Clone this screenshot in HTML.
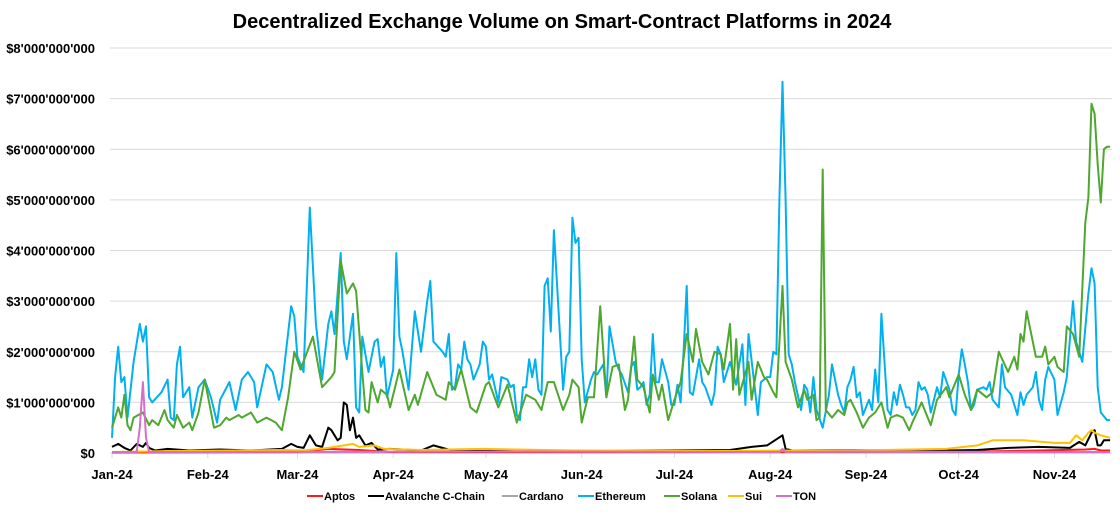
<!DOCTYPE html>
<html><head><meta charset="utf-8">
<style>
html,body{margin:0;padding:0;background:#fff;}
body{width:1120px;height:512px;overflow:hidden;font-family:"Liberation Sans",sans-serif;}
svg text{font-family:"Liberation Sans",sans-serif;font-weight:bold;fill:#000;}
</style></head>
<body>
<svg id="chart" width="1120" height="512" viewBox="0 0 1120 512">
<text x="562" y="28" text-anchor="middle" font-size="20">Decentralized Exchange Volume on Smart-Contract Platforms in 2024</text>
<g id="grid"></g>
<g id="yaxis"></g>
<g id="xaxis"></g>
<g id="series"></g>
<g id="legend"></g>
</svg>
<script>
// values in $ billions, days = day index since 2024-01-01
const monthLabels = ["Jan-24","Feb-24","Mar-24","Apr-24","May-24","Jun-24","Jul-24","Aug-24","Sep-24","Oct-24","Nov-24"];
const monthDays = [0,31,60,91,121,152,182,213,244,274,305];
const yTicks = [0,1,2,3,4,5,6,7,8];
const yTickLabels = ["$0","$1'000'000'000","$2'000'000'000","$3'000'000'000","$4'000'000'000","$5'000'000'000","$6'000'000'000","$7'000'000'000","$8'000'000'000"];
const seriesNames = ["Aptos","Avalanche C-Chain","Cardano","Ethereum","Solana","Sui","TON"];

const ethDays = [0,1,2,3,4,5,7,9,10,11,12,13,16,18,19,20,21,22,23,25,26,28,30,32,34,35,38,40,42,44,46,47,50,52,54,55,58,59,60,62,64,66,68,70,71,72,74,75,76,78,79,80,81,83,85,86,87,88,89,91,92,93,94,96,98,100,102,103,104,107,108,109,110,111,112,113,114,115,116,117,119,120,121,122,123,125,126,128,129,130,131,132,133,134,135,136,137,138,139,140,141,142,143,146,147,148,149,150,151,152,153,155,156,157,159,160,161,163,164,165,167,168,169,170,171,172,173,174,175,176,177,178,180,181,182,183,184,185,186,187,188,190,191,192,194,195,196,197,198,200,202,204,205,206,208,209,210,212,213,214,215,216,217,218,219,220,221,223,224,225,226,227,228,230,232,233,235,236,237,238,239,240,241,242,243,245,246,247,248,249,251,252,253,254,255,256,257,258,259,260,261,262,263,264,265,267,268,269,271,272,273,274,275,276,277,278,279,280,282,283,284,285,287,288,289,291,293,294,295,296,298,299,300,301,302,303,305,306,308,309,311,312,314,316,317,318,319,320,322,323];
const ethVals = [0.3,1.5,2.1,1.4,1.5,0.7,1.8,2.55,2.2,2.5,1.1,1.0,1.2,1.45,0.7,0.65,1.75,2.1,1.1,1.3,0.7,1.3,1.45,1.1,0.6,1.05,1.4,0.85,1.45,1.6,1.4,0.9,1.75,1.6,1.05,1.3,2.9,2.7,1.9,1.6,4.85,2.55,1.45,2.55,2.8,2.35,3.95,2.2,1.85,2.75,0.9,0.8,2.3,1.6,2.2,2.25,1.7,1.9,1.1,1.65,3.95,2.3,2.0,1.25,2.8,2.0,3.0,3.4,2.2,2.0,1.9,2.35,1.25,1.3,1.75,1.65,2.2,1.85,1.75,1.45,1.75,2.2,2.1,1.45,1.55,1.0,1.5,1.45,1.3,1.35,0.75,0.65,1.3,1.3,1.85,1.5,1.85,1.25,1.15,3.3,3.45,2.4,4.4,1.25,1.9,2.0,4.65,4.15,4.25,1.85,1.0,1.45,1.6,1.55,1.75,1.1,2.5,1.8,1.65,1.55,1.2,1.7,1.8,1.25,1.3,1.4,0.95,1.15,2.35,1.4,1.4,1.85,1.4,0.95,0.95,1.35,1.0,2.0,3.3,1.2,1.15,1.85,1.4,1.3,0.95,1.2,2.1,1.95,1.4,1.8,1.35,2.15,0.95,2.35,1.3,0.75,1.4,1.5,1.5,2.0,1.95,5.0,7.33,5.0,1.95,1.75,1.4,0.85,1.35,1.25,0.8,1.5,0.85,0.5,1.15,1.75,1.15,0.95,0.8,1.3,1.45,1.7,1.1,1.2,0.75,1.05,0.85,1.65,1.0,2.75,0.85,0.75,1.2,0.95,1.35,1.15,0.9,0.9,0.75,0.85,1.4,1.25,1.3,1.15,0.8,1.3,1.1,1.6,1.25,0.85,0.75,1.55,2.05,1.75,1.4,0.85,0.95,1.25,1.3,1.25,1.4,1.05,0.9,1.75,1.3,1.15,0.75,1.2,0.95,1.15,1.3,1.6,1.05,0.85,1.45,1.7,1.45,0.75,1.2,1.5,3.0,2.2,1.8,3.15,3.65,3.35,1.3,0.8,0.65,0.65];

const solDays = [0,2,3,4,5,6,7,10,12,13,15,17,18,20,21,23,25,26,28,30,33,35,37,38,41,42,45,47,50,53,55,57,59,61,65,68,71,72,74,76,78,79,81,82,83,84,86,87,89,90,93,96,98,99,102,105,108,109,111,113,116,118,121,122,125,128,131,134,137,139,141,143,146,148,149,151,152,154,156,158,160,162,164,166,167,169,170,172,174,175,177,178,180,182,184,186,188,189,191,193,195,197,198,200,201,202,203,206,207,209,211,212,214,215,217,218,220,222,224,225,227,228,229,230,231,233,235,237,238,239,241,243,244,245,247,249,251,252,254,256,258,259,262,265,267,270,271,274,276,278,280,283,285,287,290,292,293,294,295,296,299,301,302,303,305,306,308,309,311,313,315,316,317,318,319,320,321,322,323];
const solVals = [0.5,0.9,0.7,1.15,0.55,0.45,0.7,0.8,0.55,0.65,0.55,0.85,0.65,0.5,0.75,0.5,0.6,0.45,0.8,1.45,0.5,0.55,0.7,0.65,0.75,0.7,0.8,0.6,0.7,0.6,0.45,1.1,2.0,1.65,2.3,1.3,1.5,1.6,3.8,3.15,3.35,3.2,1.6,0.85,0.8,1.4,1.0,1.25,1.15,0.9,1.65,0.85,1.15,0.95,1.6,1.15,1.05,1.4,1.25,1.65,0.9,0.8,1.35,1.4,0.9,1.35,0.6,1.15,1.05,0.85,1.4,1.4,0.85,1.15,1.45,1.3,0.6,1.1,1.1,2.9,1.1,1.7,1.75,0.85,1.05,2.3,1.45,1.3,0.8,1.55,1.05,1.35,0.65,1.05,1.4,2.35,1.8,2.45,1.8,1.55,2.0,1.95,1.65,2.55,1.25,2.25,1.15,1.8,1.05,1.8,1.5,1.45,1.2,1.1,3.3,1.8,1.45,0.9,1.25,1.05,1.15,0.65,0.7,5.6,0.85,0.7,0.85,0.75,1.0,1.05,0.8,0.5,0.6,0.7,0.8,1.0,0.5,0.7,0.75,0.7,0.45,0.6,1.0,0.55,1.05,1.3,1.1,1.55,1.15,0.85,1.25,1.1,1.2,2.0,1.6,1.9,1.65,2.35,2.2,2.8,1.9,1.9,2.1,1.75,1.9,1.7,1.6,2.5,2.35,1.9,4.55,5.05,6.9,6.7,5.7,4.95,6.0,6.05,6.05];

const avaxDays = [0,2,4,6,8,10,11,12,14,18,25,35,45,55,58,60,62,64,66,68,70,71,73,74,75,76,77,78,79,80,82,84,86,90,100,104,110,130,160,200,207,212,217,218,220,240,260,280,290,300,310,313,315,317,318,319,320,321,323];
const avaxVals = [0.12,0.18,0.1,0.05,0.18,0.12,0.2,0.1,0.05,0.08,0.05,0.07,0.05,0.08,0.18,0.12,0.1,0.35,0.15,0.12,0.5,0.45,0.25,0.3,1.0,0.95,0.45,0.7,0.3,0.35,0.15,0.2,0.07,0.08,0.05,0.15,0.05,0.05,0.04,0.06,0.12,0.15,0.35,0.08,0.05,0.06,0.04,0.06,0.1,0.12,0.1,0.22,0.15,0.4,0.45,0.15,0.15,0.25,0.25];

const suiDays = [0,20,40,55,62,70,75,78,80,85,88,100,120,150,200,250,270,280,285,295,305,310,312,314,316,317,318,320,323];
const suiVals = [0.02,0.04,0.05,0.06,0.05,0.1,0.15,0.18,0.12,0.15,0.08,0.06,0.08,0.05,0.04,0.06,0.08,0.15,0.25,0.25,0.2,0.2,0.35,0.25,0.4,0.45,0.4,0.35,0.3];

const aptDays = [0,60,70,80,90,200,280,300,315,318,320,323];
const aptVals = [0.01,0.02,0.08,0.06,0.02,0.02,0.03,0.05,0.07,0.08,0.05,0.05];

const adaDays = [0,100,200,323];
const adaVals = [0.01,0.01,0.01,0.01];

const tonDays = [0,8,9,10,11,12,30,130,200,216,217,218,240,323];
const tonVals = [0.02,0.02,0.5,1.4,0.3,0.02,0.02,0.03,0.02,0.02,0.08,0.02,0.03,0.02];

const colors = ["#ff1a1a","#000000","#a6a6a6","#00b0f0","#4ea72e","#ffc000","#d86ecc"];
const NS = "http://www.w3.org/2000/svg";
const x0 = 112, pxPerDay = 3.09, y0 = 453, pxPerB = 50.625;
function X(d){ return x0 + d*pxPerDay; }
function Y(v){ return y0 - v*pxPerB; }
function mk(tag, attrs, parent){ const e=document.createElementNS(NS,tag); for(const k in attrs) e.setAttribute(k,attrs[k]); parent.appendChild(e); return e; }

const grid=document.getElementById('grid'), yaxis=document.getElementById('yaxis'), xaxis=document.getElementById('xaxis');
yTicks.forEach((t,i)=>{
  if(t>0){ const l=mk('line',{x1:110,x2:1112,y1:Y(t),y2:Y(t),stroke:'#d9d9d9','stroke-width':1},grid);
      }
  const tx=mk('text',{x:95,y:Y(t)+5,'text-anchor':'end','font-size':13},yaxis);
  tx.textContent=yTickLabels[i];
   
});
const ax=mk('line',{x1:110,x2:1112,y1:y0,y2:y0,stroke:'#d9d9d9','stroke-width':1},xaxis);
 
monthDays.forEach((d,i)=>{
  const tk=mk('line',{x1:X(d),x2:X(d),y1:y0,y2:y0+5,stroke:'#d9d9d9'},xaxis);
   
  const tx=mk('text',{x:X(d),y:y0+26,'text-anchor':'middle','font-size':13},xaxis);
  tx.textContent=monthLabels[i];
   
});

const seriesData=[[aptDays,aptVals],[avaxDays,avaxVals],[adaDays,adaVals],[ethDays,ethVals],[solDays,solVals],[suiDays,suiVals],[tonDays,tonVals]];
const drawOrder=[2,0,1,5,3,4,6];
const sg=document.getElementById('series');
drawOrder.forEach(i=>{
  const [ds,vs]=seriesData[i];
  const pts=ds.map((d,k)=>X(d).toFixed(1)+','+Y(vs[k]).toFixed(1)).join(' ');
  const p=mk('polyline',{points:pts,fill:'none',stroke:colors[i],'stroke-width':2,'stroke-linejoin':'round'},sg);
  
  
});

const lg=document.getElementById('legend');
const legendX=[307,368,502,578,664,728,776];
seriesNames.forEach((n,i)=>{
  const g=mk('g',{},lg);
  
  
  mk('line',{x1:legendX[i],x2:legendX[i]+16,y1:496,y2:496,stroke:colors[i],'stroke-width':2},g);
  const t=mk('text',{x:legendX[i]+17,y:500,'font-size':11},g);
  t.textContent=n;
});
</script>
</body></html>
